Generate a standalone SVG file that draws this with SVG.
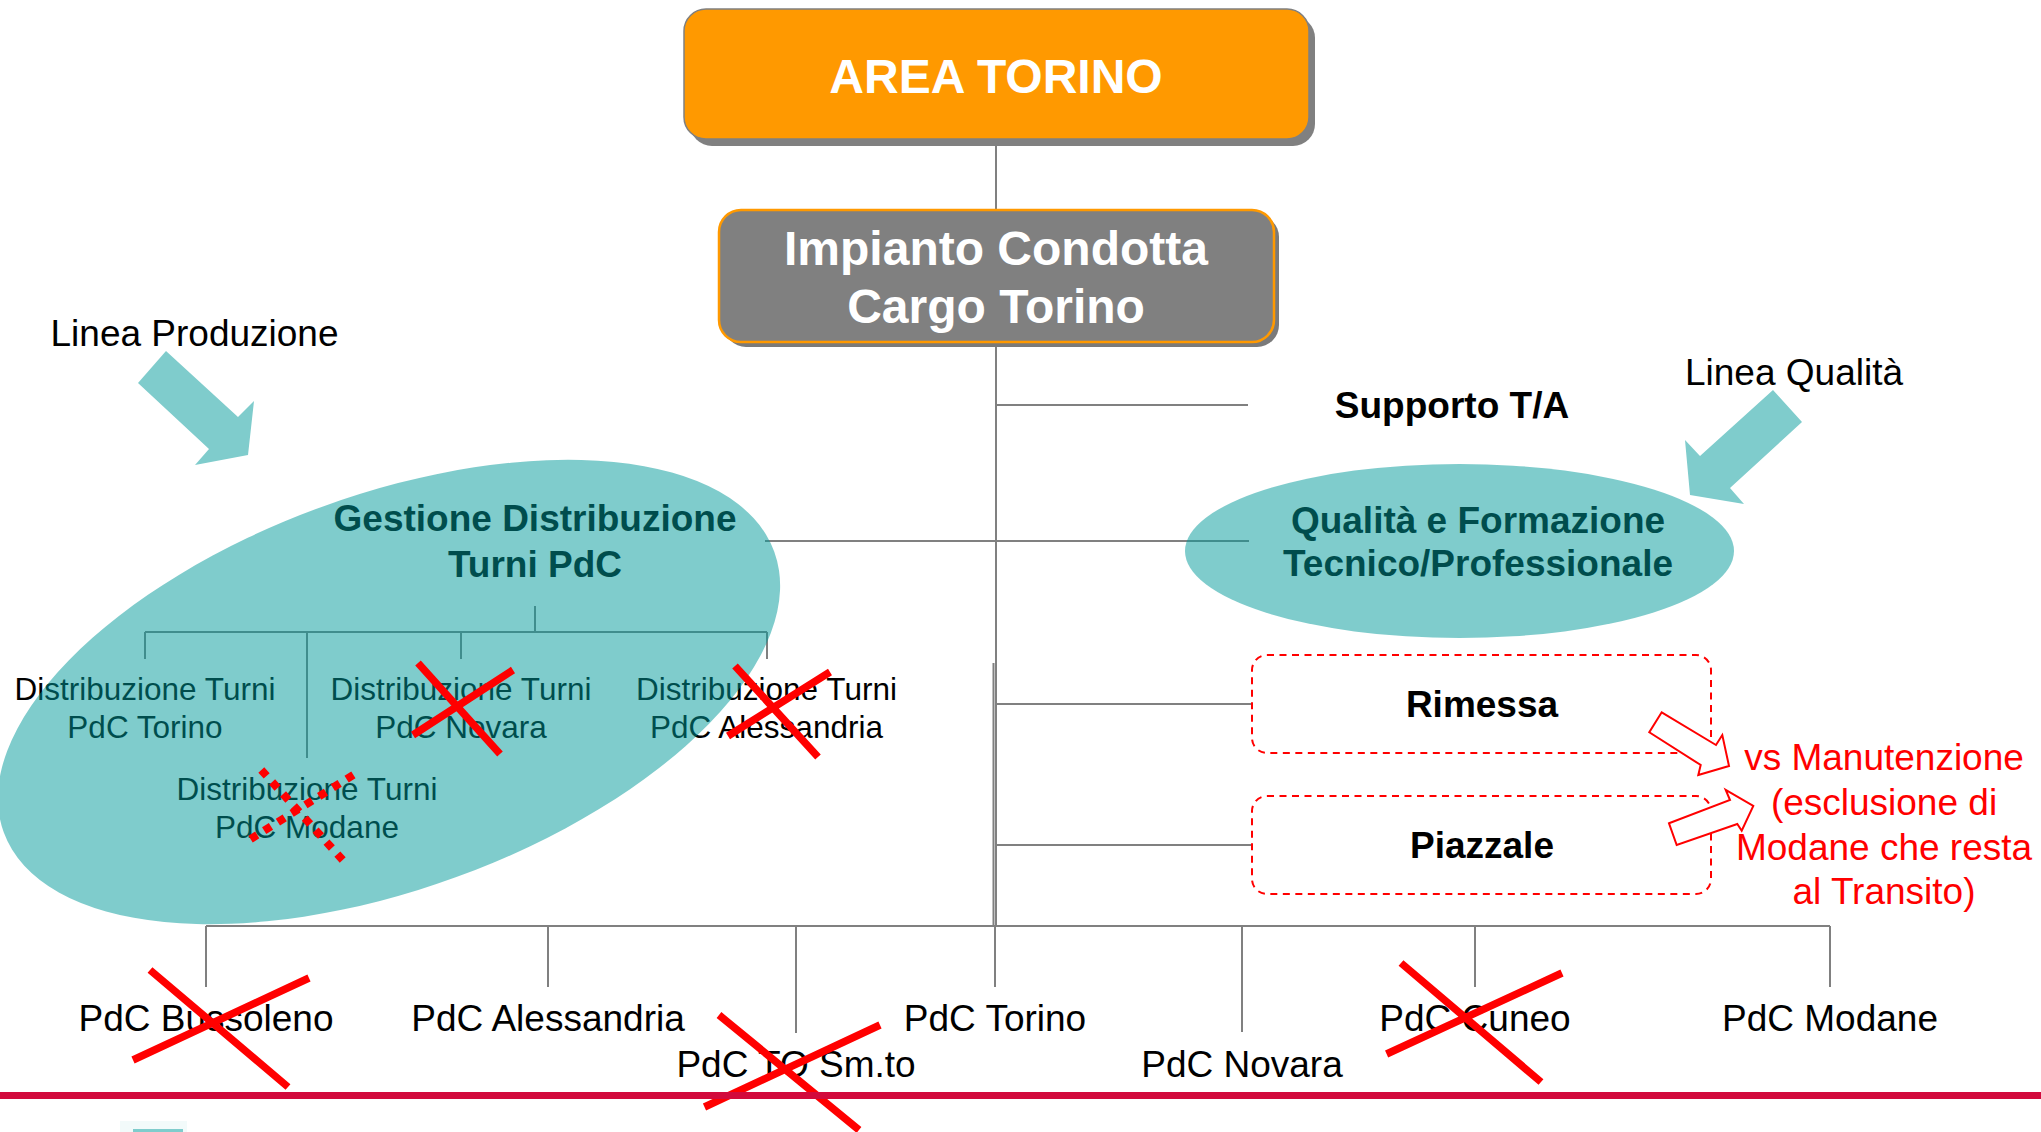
<svg xmlns="http://www.w3.org/2000/svg" width="2041" height="1132" viewBox="0 0 2041 1132">
<style>
.ln{stroke:#808080;stroke-width:2;fill:none}
.t{font-family:"Liberation Sans",Arial,sans-serif;font-size:37px;text-anchor:middle;fill:#000}
.b{font-weight:bold}
.d{font-size:31.5px}
.w{fill:#fff;font-size:48px;font-weight:bold}
.r{fill:#FF0000}
.teal{fill:#009999;fill-opacity:0.5}
.tealA{fill:#7FCCCC}
.x{stroke:#FF0000;stroke-width:7.5;fill:none}
.xd{stroke:#FF0000;stroke-width:8;stroke-dasharray:8 8.2;fill:none}
.dash{fill:none;stroke:#FF0000;stroke-width:2;stroke-dasharray:7 5.5}
.harrow{fill:#fff;stroke:#FF0000;stroke-width:2;stroke-linejoin:miter}
</style>
<rect width="2041" height="1132" fill="#fff"/>

<g id="connectors">
<path class="ln" d="M996,139V210"/>
<path class="ln" d="M996,342V926"/>
<path class="ln" d="M993.5,663V926"/>
<path class="ln" d="M996,405H1248"/>
<path class="ln" d="M765,541H1249"/>
<path class="ln" d="M996,704H1252"/>
<path class="ln" d="M996,845H1252"/>
<path class="ln" d="M206,926H1830"/>
<path class="ln" d="M206,926V987M548,926V987M796,926V1033M995,926V987M1242,926V1032M1475,926V987M1830,926V987"/>
<path class="ln" d="M535,606V632M145,632H767M145,632V659M307,632V758M461,632V659M767,632V659"/>
</g>

<g id="area-torino">
<rect x="690" y="16" width="625" height="130" rx="22" fill="#808080"/>
<rect x="684" y="9" width="625" height="130" rx="22" fill="#FF9900" stroke="#808080" stroke-width="1.5"/>
<text class="t w" x="996" y="93">AREA TORINO</text>
</g>

<g id="impianto">
<rect x="724" y="215" width="555" height="132" rx="22" fill="#7A7A7A"/>
<rect x="719" y="210" width="555" height="132" rx="22" fill="#808080" stroke="#FF9900" stroke-width="2.5"/>
<text class="t w" x="996" y="265">Impianto Condotta</text>
<text class="t w" x="996" y="323">Cargo Torino</text>
</g>

<g id="linea-produzione">
<text class="t" x="194.5" y="346">Linea Produzione</text>
<polygon class="tealA" points="166,351 138,383 209,449 195,465 248,455 254,401 238,417"/>
</g>

<g id="linea-qualita">
<text class="t" x="1794" y="385">Linea Qualità</text>
<polygon class="tealA" points="1773,390 1802,422 1730,488 1744,504 1690,495 1685,440 1700,456"/>
</g>

<g id="supporto">
<text class="t b" x="1452" y="418">Supporto T/A</text>
</g>

<g id="dist-torino">
<text class="t d" x="145" y="700">Distribuzione Turni</text>
<text class="t d" x="145" y="738">PdC Torino</text>
</g>
<g id="dist-novara">
<text class="t d" x="461" y="700">Distribuzione Turni</text>
<text class="t d" x="461" y="738">PdC Novara</text>
</g>
<g id="dist-alessandria">
<text class="t d" x="766.5" y="700">Distribuzione Turni</text>
<text class="t d" x="766.5" y="738">PdC Alessandria</text>
</g>
<g id="dist-modane">
<text class="t d" x="307" y="800">Distribuzione Turni</text>
<text class="t d" x="307" y="838">PdC Modane</text>
</g>

<g id="gestione">
<text class="t b" x="535" y="531">Gestione Distribuzione</text>
<text class="t b" x="535" y="577">Turni PdC</text>
<ellipse class="teal" cx="389" cy="692" rx="410" ry="197" transform="rotate(-20 389 692)"/>
</g>

<g id="qualita">
<text class="t b" x="1478" y="533">Qualità e Formazione</text>
<text class="t b" x="1478" y="576">Tecnico/Professionale</text>
<ellipse class="teal" cx="1459.5" cy="551" rx="274.5" ry="87"/>
</g>

<g id="rimessa">
<rect class="dash" x="1252" y="655" width="459" height="98" rx="15"/>
<text class="t b" x="1482" y="717">Rimessa</text>
</g>
<g id="piazzale">
<rect class="dash" x="1252" y="796" width="459" height="98" rx="15"/>
<text class="t b" x="1482" y="858">Piazzale</text>
</g>

<g id="manutenzione">
<polygon class="harrow" points="1661.7,712.3 1716,745 1722.3,735 1729,766 1698.3,775 1700.7,765 1649.3,732.3"/>
<polygon class="harrow" points="1669,823.3 1730,800 1725.7,790 1753.3,806 1741.7,830.7 1737.3,824 1676.7,845"/>
<text class="t r" x="1884" y="770">vs Manutenzione</text>
<text class="t r" x="1884" y="815">(esclusione di</text>
<text class="t r" x="1884" y="860">Modane che resta</text>
<text class="t r" x="1884" y="904">al Transito)</text>
</g>

<g id="pdc-bussoleno"><text class="t" x="206" y="1031">PdC Bussoleno</text></g>
<g id="pdc-alessandria"><text class="t" x="548" y="1031">PdC Alessandria</text></g>
<g id="pdc-tosmto"><text class="t" x="796" y="1077">PdC TO Sm.to</text></g>
<g id="pdc-torino"><text class="t" x="995" y="1031">PdC Torino</text></g>
<g id="pdc-novara"><text class="t" x="1242" y="1077">PdC Novara</text></g>
<g id="pdc-cuneo"><text class="t" x="1475" y="1031">PdC Cuneo</text></g>
<g id="pdc-modane"><text class="t" x="1830" y="1031">PdC Modane</text></g>

<g id="crosses">
<path class="x" d="M418,663L500,754M513,670L413,735"/>
<path class="x" d="M735,666L818,757M830,672L728,736"/>
<path class="xd" d="M261.3,770L342.7,860M353.4,774.9L250.6,839.1"/>
<path class="x" d="M150,970L288,1087M309,978L133,1060"/>
<path class="x" d="M719,1015L859,1130M880,1025L704.5,1107"/>
<path class="x" d="M1401,963L1541,1082M1562,973L1386.6,1054"/>
</g>

<g id="footer">
<rect x="0" y="1092" width="2041" height="7" fill="#D20A3C"/>
<rect x="120" y="1121" width="67" height="11" fill="#F2FAFA"/>
<rect x="133" y="1129" width="50" height="3" fill="#7FCCCC"/>
</g>
</svg>
